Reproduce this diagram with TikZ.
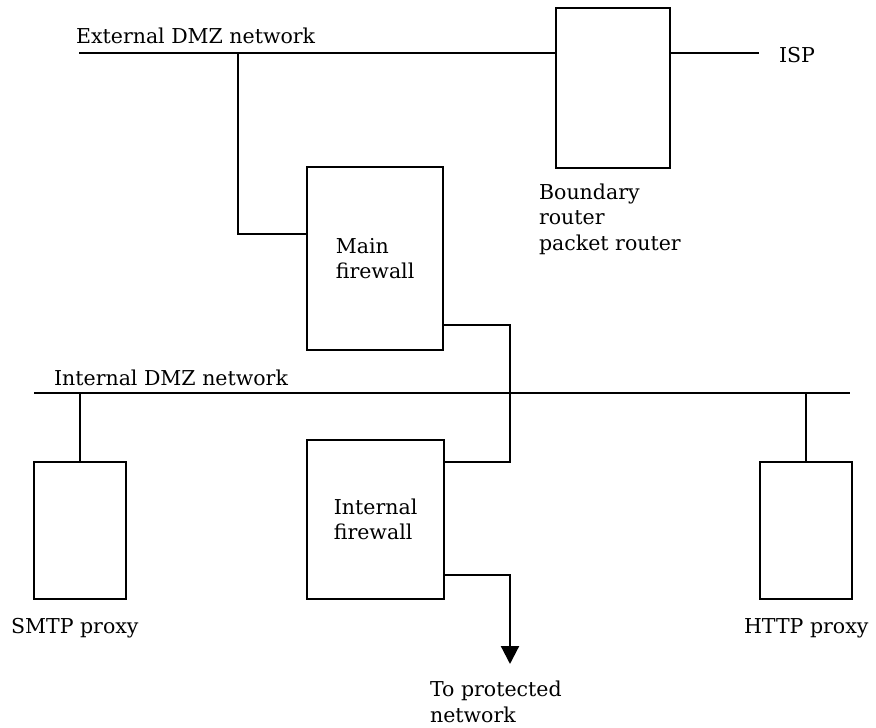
\documentclass[tikz,border=0pt]{standalone}
\usepackage{fontspec}
\setmainfont{DejaVu Serif}
\usetikzlibrary{arrows.meta,positioning}

\begin{document}
\begin{tikzpicture}
	[x=1pt,y=-1pt,line width=2.2pt,
		box/.style={draw,rectangle,inner sep=0pt,anchor=north west,align=left,font=\fontsize{20.5}{25.5}\selectfont},
		label text/.style={anchor=base west,inner sep=0pt,align=left,font=\fontsize{20.5}{25.5}\selectfont}]

	\useasboundingbox (0,0) rectangle (876,728);

	% boxes
	\node[box,minimum width=114pt,minimum height=160pt] (bnd) at (555,7) {};
	\node[box,minimum width=136pt,minimum height=183pt] (mfw) at (306,166) {Main\\firewall};
	\node[box,minimum width=137pt,minimum height=159pt] (ifw) at (306,439) {Internal\\firewall};
	\node[box,minimum width=92pt,minimum height=137pt] (smtp) at (33,461) {};
	\node[box,minimum width=92pt,minimum height=137pt] (http) at (759,461) {};

	% labels (base of the last line)
	\node[label text] (extlbl) at (75,43) {External DMZ network};
	\node[label text] (isplbl) at (778,62) {ISP};
	\node[label text] (bndlbl) at (538,250) {Boundary\\router\\packet router};
	\node[label text] (intlbl) at (53,385) {Internal DMZ network};
	\node[label text] (smtplbl) at (10,633) {SMTP proxy};
	\node[label text] (httplbl) at (743,633) {HTTP proxy};
	\node[label text] (outlbl) at (429,722) {To protected\\network};

	\coordinate (ext west) at (79,53);
	\coordinate (ext tap) at (238,53);
	\coordinate (mfw bend) at (238,234);
	\coordinate (isp end) at (759,53);
	\coordinate (int west) at (34,393);
	\coordinate (int east) at (850,393);
	\coordinate (link top) at (510,325);
	\coordinate (link bottom) at (510,462);
	\coordinate (out bend) at (510,575);
	\coordinate (out end) at (510,664);

	\draw (ext west) -- (ext west -| bnd.west);
	\draw (bnd.east |- ext west) -- (isp end);
	\draw (ext tap) -- (mfw bend) -- (mfw bend -| mfw.west);
	\draw (mfw.east |- link top) -- (link top) -- (link bottom) -- (link bottom -| ifw.east);
	\draw (int west) -- (int east);
	\draw (smtp.north |- int west) -- (smtp.north);
	\draw (http.north |- int west) -- (http.north);
	\draw[-{Triangle[width=18pt,length=18pt]}] (ifw.east |- out bend) -- (out bend) -- (out end);

\end{tikzpicture}
\end{document}
